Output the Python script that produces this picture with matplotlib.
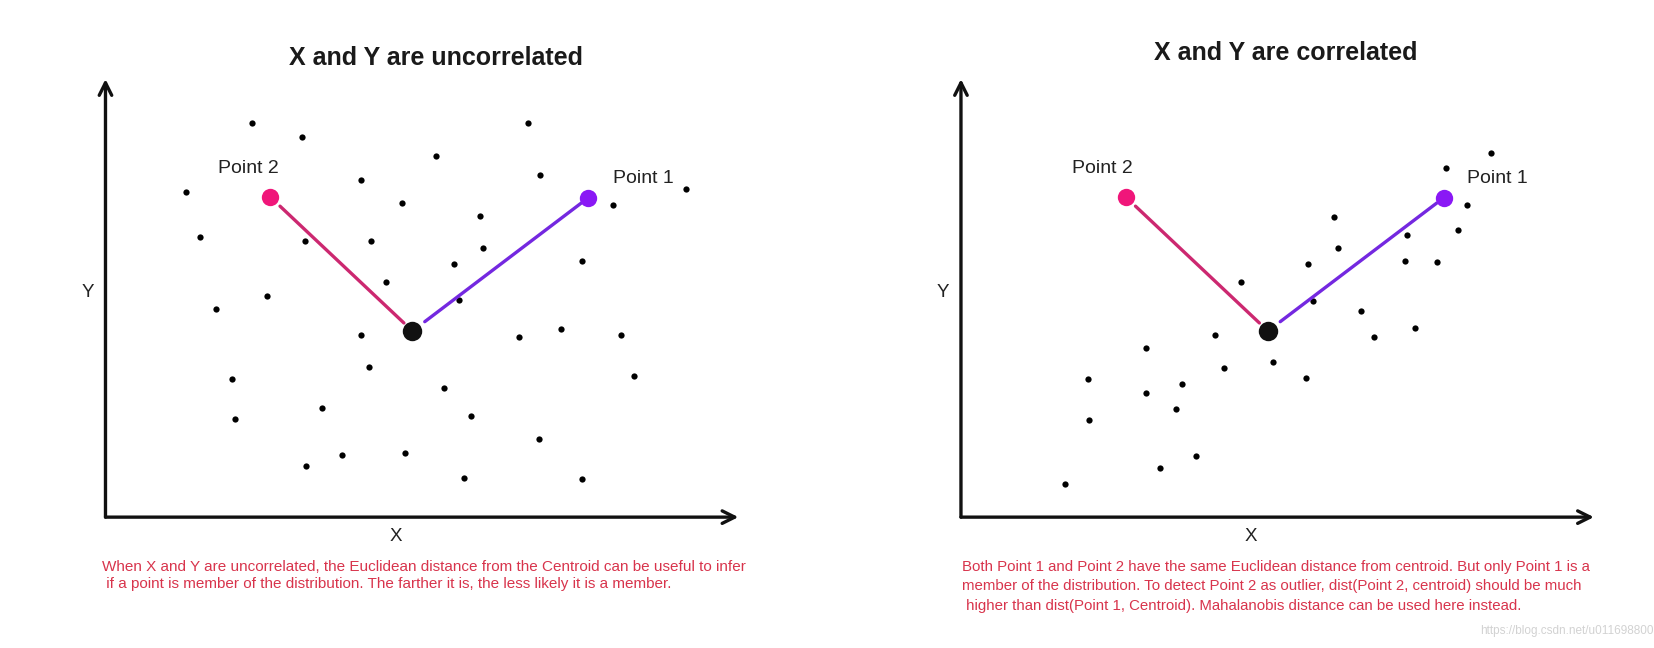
import matplotlib
matplotlib.use("Agg")
import matplotlib.pyplot as plt
import numpy as np

plt.rcParams['font.family'] = ['Liberation Sans', 'DejaVu Sans']

# ---------------- data (axis units 0..100 on both axes) ----------------
unc_x = [23.2, 31.0, 66.8, 52.2, 40.3, 68.7, 12.8, 46.8, 91.8, 80.2, 59.2, 15.0, 31.5,
         42.0, 59.7, 55.0, 75.3, 44.3, 25.5, 55.8, 17.5, 40.3, 65.3, 72.0, 81.5, 41.7,
         83.5, 20.0, 53.5, 34.2, 57.8, 20.5, 68.5, 37.3, 47.3, 31.7, 56.7, 75.3]
unc_y = [90.5, 87.1, 90.5, 82.8, 77.4, 78.4, 74.5, 72.1, 75.2, 71.6, 69.2, 64.3, 63.3,
         63.3, 61.7, 58.0, 58.7, 53.9, 50.7, 49.8, 47.8, 41.7, 41.3, 43.2, 41.7, 34.5,
         32.3, 31.6, 29.6, 25.0, 23.3, 22.6, 18.0, 14.3, 14.8, 11.7, 9.0, 8.7]

cor_x = [83.7, 76.7, 80.0, 59.0, 78.5, 70.5, 59.5, 54.8, 70.2, 75.2, 44.2, 55.7, 63.2,
         71.8, 40.2, 65.2, 29.2, 41.5, 49.3, 54.5, 20.0, 35.0, 29.3, 34.0, 20.3, 37.2,
         31.5, 16.5]
cor_y = [83.5, 80.1, 71.6, 68.9, 65.8, 64.8, 61.7, 58.0, 58.7, 58.5, 53.9, 49.5, 47.3,
         43.4, 41.7, 41.3, 38.8, 34.2, 35.7, 32.0, 31.6, 30.6, 28.4, 24.8, 22.3, 14.1,
         11.2, 7.5]

point1 = (76.3, 73.3)
point2 = (26.0, 73.5)
centroid = (48.5, 42.7)

titles = ["X and Y are uncorrelated", "X and Y are correlated"]
captions = [
    "When X and Y are uncorrelated, the Euclidean distance from the Centroid can be useful to infer\n"
    " if a point is member of the distribution. The farther it is, the less likely it is a member.",
    "Both Point 1 and Point 2 have the same Euclidean distance from centroid. But only Point 1 is a\n"
    "member of the distribution. To detect Point 2 as outlier, dist(Point 2, centroid) should be much\n"
    " higher than dist(Point 1, Centroid). Mahalanobis distance can be used here instead.",
]
watermark = "https://blog.csdn.net/u011698800"

# ---------------- styling ----------------
PINK = "#f0167a"
PINK_LINE = "#cc2870"
PURPLE = "#8a18f5"
PURPLE_LINE = "#7428e0"
RED_TEXT = "#d8344c"

fig = plt.figure(figsize=(16.54, 6.48), dpi=100)
fig.patch.set_facecolor("white")

W, H = 1568.0, 614.0
panels = [
    dict(ox=100, xs=unc_x, ys=unc_y, title_x=52.2, title_y=105.3, ttl=titles[0],
         cap=captions[0], cap_x=-0.5, cap_y=-9.8, linesp=1.25,
         p2=(-3.5, 6.6), p1=(8.7, 4.4), capfs=11.0),
    dict(ox=911, xs=cor_x, ys=cor_y, title_x=51.3, title_y=106.5, ttl=titles[1],
         cap=captions[1], cap_x=0.2, cap_y=-9.8, linesp=1.5,
         p2=(-3.6, 6.4), p1=(8.5, 4.4), capfs=10.8),
]

for p in panels:
    left = p["ox"] / W
    bottom = 1 - 490 / H
    width = 600 / W
    height = 413 / H
    ax = fig.add_axes([left, bottom, width, height])
    ax.set_xlim(0, 100)
    ax.set_ylim(0, 100)
    ax.axis("off")

    # axes arrows
    arrow_kw = dict(arrowstyle="->,head_length=0.9,head_width=0.45", lw=2.4,
                    color="#111111", shrinkA=0, shrinkB=0)
    ax.annotate("", xy=(100, 0), xytext=(0, 0), arrowprops=arrow_kw,
                annotation_clip=False)
    ax.annotate("", xy=(0, 100.5), xytext=(0, 0), arrowprops=arrow_kw,
                annotation_clip=False)

    # scatter points
    ax.plot(p["xs"], p["ys"], "o", color="black", ms=4.5, mew=0, clip_on=False)

    # distance lines (shortened at both ends)
    def seg(a, b, f0=0.05, f1=0.05):
        a = np.array(a); b = np.array(b)
        d = b - a
        s = a + d * f0
        e = b - d * f1
        return [s[0], e[0]], [s[1], e[1]]

    xs_, ys_ = seg(point2, centroid, 0.07, 0.06)
    ax.plot(xs_, ys_, color=PINK_LINE, lw=2.4, solid_capstyle="round")
    xs_, ys_ = seg(centroid, point1, 0.07, 0.04)
    ax.plot(xs_, ys_, color=PURPLE_LINE, lw=2.4, solid_capstyle="round")

    ax.plot(*point2, "o", color=PINK, ms=12.5, mew=0)
    ax.plot(*point1, "o", color=PURPLE, ms=12.5, mew=0)
    ax.plot(*centroid, "o", color="#111111", ms=14, mew=0)

    ax.text(point2[0] + p["p2"][0], point2[1] + p["p2"][1], "Point 2", fontsize=14,
            color="#222222", ha="center", va="center")
    ax.text(point1[0] + p["p1"][0], point1[1] + p["p1"][1], "Point 1", fontsize=14,
            color="#222222", ha="center", va="center")

    ax.text(-2.8, 51.5, "Y", fontsize=13.5, color="#222222", ha="center", va="center")
    ax.text(45.8, -4.5, "X", fontsize=13.5, color="#222222", ha="center", va="center")

    ax.text(p["title_x"], p["title_y"], p["ttl"], fontsize=18, fontweight="bold",
            color="#1a1a1a", ha="center", va="center")

    ax.text(p["cap_x"], p["cap_y"], p["cap"], fontsize=p["capfs"], color=RED_TEXT,
            ha="left", va="top", linespacing=p["linesp"])

fig.text(1.0, 1 - 598 / H, watermark, fontsize=8.5, color="#d2d2d2",
         ha="right", va="center")

fig.savefig("out.png", dpi=100, facecolor="white")
